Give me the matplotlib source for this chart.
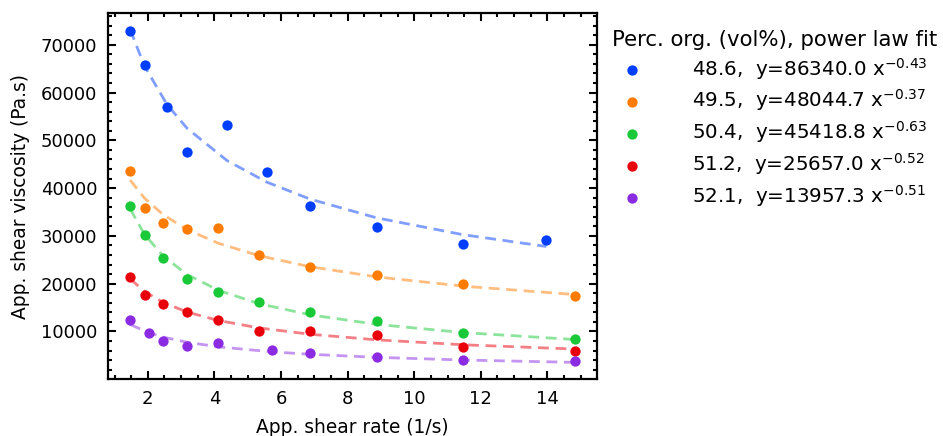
import matplotlib
matplotlib.use("Agg")
import matplotlib.pyplot as plt
import numpy as np

plt.rcParams['font.family'] = ['DejaVu Sans']
plt.rcParams['font.size'] = 13

# Data
org_content = ["48.6", "49.5", "50.4", "51.2", "52.1"]
colors = ["#023eff", "#ff7c00", "#1ac938", "#e8000b", "#8b2be2"]

x_blue = [1.47, 1.90, 2.58, 3.18, 4.38, 5.57, 6.87, 8.87, 11.47, 13.97]
y_blue = [72900, 65840, 56980, 47490, 53240, 43280, 36160, 31860, 28390, 29100]

x_orange = [1.47, 1.90, 2.46, 3.18, 4.12, 5.33, 6.87, 8.87, 11.47, 14.82]
y_orange = [43550, 35870, 32750, 31510, 31720, 25900, 23490, 21830, 19960, 17470]

x_green = [1.47, 1.90, 2.46, 3.18, 4.12, 5.33, 6.87, 8.87, 11.47, 14.82]
y_green = [36220, 30140, 25360, 21070, 18300, 16230, 14150, 12200, 9710, 8340]

x_red = [1.47, 1.90, 2.46, 3.18, 4.12, 5.33, 6.87, 8.87, 11.47, 14.82]
y_red = [21480, 17680, 15810, 14070, 12350, 10120, 10120, 9300, 6800, 5910]

x_purple = [1.47, 2.02, 2.46, 3.18, 4.12, 5.72, 6.87, 8.87, 11.47, 14.82]
y_purple = [12350, 9650, 8050, 7010, 7570, 6120, 5430, 4730, 4040, 3900]

# Power-law fit coefficients (from legend)
fit_a = [86340.0, 48044.7, 45418.8, 25657.0, 13957.3]
fit_b = [-0.43, -0.37, -0.63, -0.52, -0.51]

xs = [x_blue, x_orange, x_green, x_red, x_purple]
ys = [y_blue, y_orange, y_green, y_red, y_purple]

fig = plt.figure(figsize=(9.43, 4.36), dpi=100)
ax = fig.add_axes([0.1145, 0.1307, 0.5185, 0.8395])

for name, c, x, y, a, b in zip(org_content, colors, xs, ys, fit_a, fit_b):
    xa = np.array(x)
    ax.plot(xa, a * xa ** b, linestyle=(0, (3.9, 2.4)), color=c, alpha=0.5,
            linewidth=2, zorder=2)
    ax.scatter(x, y, s=55, color=c, zorder=3, linewidths=0,
               label=f"{name},  y={a:.1f} x$^{{{b:.2f}}}$")

ax.set_xlabel("App. shear rate (1/s)", fontsize=13.4, labelpad=7)
ax.set_ylabel("App. shear viscosity (Pa.s)", fontsize=13.4, labelpad=8)

ax.set_xticks([2, 4, 6, 8, 10, 12, 14])
ax.set_yticks([10000, 20000, 30000, 40000, 50000, 60000, 70000])
ax.xaxis.set_minor_locator(matplotlib.ticker.MultipleLocator(0.5))
ax.yaxis.set_minor_locator(matplotlib.ticker.MultipleLocator(2000))
ax.tick_params(which='both', direction='in', top=True, right=True, width=1.5)
ax.tick_params(which='major', length=6, pad=7.8)
ax.tick_params(which='minor', length=3)
for s in ax.spines.values():
    s.set_linewidth(1.6)

ax.margins(x=0.05, y=0.05)

leg = ax.legend(title="Perc. org. (vol%), power law fit", loc='upper left',
                bbox_to_anchor=(0.994, 1.003), frameon=False,
                handletextpad=2.05, labelspacing=0.3, fontsize=14.3,
                title_fontsize=15.3, alignment='left')

fig.savefig("out.png", dpi=100)
